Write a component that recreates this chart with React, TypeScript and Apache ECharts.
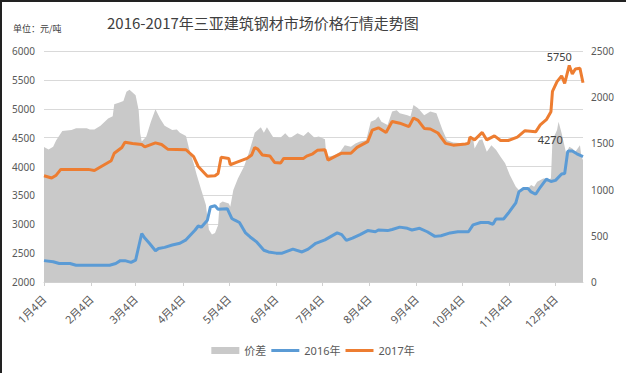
import React, { useEffect, useRef } from 'react';
import * as echarts from 'echarts';

// Daily category axis: 2016-01-04 .. 2016-12-22 (index = days since Jan 4)
const START_YEAR = 2016;
const START_MONTH = 0;
const START_DAY = 4;
const DAY_COUNT = 354;

const TITLE = '2016-2017年三亚建筑钢材市场价格行情走势图';
const UNIT = '单位：元/吨';
const SERIES_NAMES = ['价差', '2016年', '2017年'];

const leftAxis = { min: 2000, max: 6000, interval: 500 };
const rightAxis = { min: 0, max: 2500, interval: 500 };

// [dayIndex, price]
const price2016: [number, number][] = [
  [0, 2370], [6, 2350], [10, 2320], [17, 2320], [21, 2290], [43, 2290], [47, 2320], [50, 2370],
  [53, 2370], [57, 2340], [60, 2380], [62, 2610], [64, 2840], [66, 2760], [69, 2670], [73, 2540],
  [75, 2580], [79, 2600], [84, 2640], [89, 2670], [93, 2730], [99, 2900], [101, 2970], [103, 2950],
  [107, 3070], [109, 3300], [112, 3320], [114, 3260], [120, 3270], [123, 3100], [125, 3070],
  [128, 3030], [132, 2850], [135, 2780], [139, 2700], [144, 2550], [147, 2520], [152, 2500],
  [156, 2500], [163, 2570], [169, 2520], [173, 2570], [178, 2670], [184, 2730], [188, 2790],
  [192, 2850], [195, 2820], [198, 2720], [202, 2760], [207, 2820], [212, 2890], [217, 2870],
  [219, 2900], [225, 2890], [228, 2910], [233, 2950], [238, 2930], [241, 2900], [246, 2930],
  [251, 2870], [256, 2790], [260, 2800], [266, 2850], [271, 2870], [278, 2870], [281, 2990],
  [286, 3030], [291, 3030], [294, 3000], [296, 3090], [301, 3090], [304, 3190], [309, 3370],
  [311, 3560], [314, 3620], [317, 3620], [319, 3560], [322, 3520], [325, 3640], [329, 3780],
  [332, 3740], [335, 3760], [339, 3870], [341, 3880], [343, 4260], [344, 4270], [346, 4270],
  [349, 4220], [353, 4170],
];

const price2017: [number, number][] = [
  [0, 3840], [5, 3800], [8, 3850], [11, 3950], [29, 3950], [33, 3930], [44, 4100], [46, 4230],
  [51, 4330], [53, 4420], [58, 4400], [64, 4380], [66, 4340], [73, 4410], [77, 4380], [81, 4300],
  [93, 4290], [98, 4170], [101, 4000], [107, 3830], [112, 3840], [114, 3880], [116, 4160],
  [121, 4140], [122, 4030], [126, 4070], [133, 4140], [136, 4200], [138, 4330], [140, 4300],
  [143, 4200], [148, 4180], [151, 4070], [155, 4060], [157, 4140], [170, 4140], [172, 4180],
  [176, 4220], [179, 4280], [184, 4290], [186, 4110], [191, 4180], [195, 4230], [201, 4230],
  [205, 4330], [212, 4430], [215, 4630], [219, 4670], [224, 4590], [228, 4780], [233, 4750],
  [239, 4690], [242, 4840], [245, 4800], [249, 4660], [253, 4650], [258, 4580], [263, 4400],
  [268, 4370], [276, 4390], [278, 4400], [279, 4510], [282, 4460], [287, 4590], [290, 4460],
  [295, 4530], [299, 4450], [304, 4450], [310, 4510], [315, 4620], [322, 4600], [325, 4720],
  [329, 4810], [332, 4950], [333, 5300], [336, 5470], [339, 5570], [341, 5440], [344, 5750],
  [346, 5600], [348, 5690], [351, 5700], [353, 5450],
];

// [dayIndex, spread] (right axis)
const spread: [number, number][] = [
  [0, 1460], [3, 1435], [6, 1465], [8, 1535], [12, 1635], [18, 1645], [21, 1665], [28, 1665],
  [30, 1650], [33, 1650], [37, 1690], [42, 1770], [45, 1795], [46, 1925], [49, 1940], [52, 1960],
  [54, 2060], [56, 2080], [60, 2020], [62, 1860], [63, 1610], [64, 1520], [66, 1555], [67, 1575],
  [70, 1735], [73, 1870], [76, 1770], [79, 1690], [84, 1645], [87, 1650], [89, 1615], [93, 1580],
  [95, 1445], [98, 1285], [100, 1160], [103, 995], [106, 835], [108, 565], [110, 515], [112, 530],
  [114, 615], [115, 850], [117, 870], [121, 850], [122, 815], [124, 995], [127, 1120], [131, 1250],
  [134, 1390], [137, 1555], [138, 1615], [142, 1675], [144, 1615], [146, 1675], [150, 1570],
  [155, 1565], [158, 1610], [161, 1555], [166, 1610], [170, 1580], [173, 1625], [177, 1565],
  [180, 1575], [184, 1545], [185, 1355], [190, 1370], [194, 1410], [197, 1480], [201, 1465],
  [204, 1500], [207, 1520], [211, 1535], [214, 1735], [217, 1755], [219, 1790], [221, 1735],
  [225, 1700], [228, 1845], [231, 1860], [233, 1825], [238, 1805], [240, 1790], [242, 1915],
  [245, 1880], [249, 1805], [253, 1845], [257, 1825], [261, 1645], [264, 1535], [268, 1510],
  [276, 1500], [278, 1520], [281, 1555], [282, 1445], [285, 1535], [287, 1545], [290, 1410],
  [293, 1480], [296, 1430], [299, 1355], [302, 1285], [305, 1160], [309, 1030], [311, 995],
  [314, 1015], [316, 995], [319, 1050], [321, 1030], [323, 1085], [327, 1120], [331, 1115],
  [332, 1120], [333, 1535], [336, 1645], [337, 1735], [339, 1610], [342, 1390], [344, 1465],
  [346, 1445], [348, 1410], [351, 1480], [352, 1355], [353, 1320],
];

const COLORS = { spread: '#C9C9C9', y2016: '#5B9BD5', y2017: '#ED7D31' };
const TEXT = '#595959';
const FONT = "'Noto Sans', 'Noto Sans CJK SC', sans-serif";
const LINE_ICON = 'path://M0 0M28 7M0 2H28V5H0Z';

function peakOf(arr: [number, number][]) {
  return arr.reduce((a, b) => (b[1] > a[1] ? b : a));
}

export default function App() {
  const ref = useRef<HTMLDivElement>(null);
  useEffect(() => {
    document.body.style.margin = '0';
    const chart = echarts.init(ref.current!, null, { renderer: 'svg' });
    const categories: string[] = [];
    const monthIdx = new Set<number>();
    for (let i = 0; i < DAY_COUNT; i++) {
      const dt = new Date(START_YEAR, START_MONTH, START_DAY + i);
      categories.push(`${dt.getMonth() + 1}月${dt.getDate()}日`);
      if (dt.getDate() === START_DAY) monthIdx.add(i);
    }
    const p17 = peakOf(price2017);
    const p16 = peakOf(price2016);
    const markLabel = (pt: [number, number], dx: number, dy: number) => ({
      symbol: 'rect',
      symbolSize: 1,
      itemStyle: { color: 'rgba(0,0,0,0)' },
      label: {
        show: true,
        position: 'top',
        formatter: '{c}',
        offset: [dx, dy],
        color: '#404040',
        fontSize: 11,
        fontFamily: FONT,
      },
      data: [{ coord: [categories[pt[0]], pt[1]], value: pt[1] }],
    });

    chart.setOption({
      animation: false,
      textStyle: { fontFamily: FONT },
      title: [
        {
          text: TITLE,
          left: 102,
          top: 10,
          textStyle: { fontSize: 15, fontWeight: 'normal', color: '#404040', fontFamily: "'Noto Sans CJK SC', sans-serif" },
        },
        {
          text: UNIT,
          left: 8,
          top: 19,
          textStyle: { fontSize: 9, fontWeight: 'normal', color: '#404040', fontFamily: "'Noto Sans CJK SC', sans-serif" },
        },
      ],
      legend: {
        bottom: 12,
        left: 'center',
        itemWidth: 28,
        itemHeight: 7,
        itemGap: 5,
        textStyle: { color: TEXT, fontSize: 11, fontFamily: FONT },
        data: [
          { name: SERIES_NAMES[0], icon: 'rect' },
          { name: SERIES_NAMES[1], icon: LINE_ICON },
          { name: SERIES_NAMES[2], icon: LINE_ICON },
        ],
      },
      grid: { left: 44, right: 43, top: 51, bottom: 91 },
      xAxis: {
        type: 'category',
        boundaryGap: false,
        data: categories,
        axisLine: { lineStyle: { color: '#D0D0D0', width: 1 } },
        axisTick: {
          show: true,
          length: 4,
          interval: (i: number) => monthIdx.has(i),
          lineStyle: { color: '#D0D0D0' },
        },
        axisLabel: {
          interval: (i: number) => monthIdx.has(i),
          rotate: 45,
          margin: 15,
          color: TEXT,
          fontSize: 11,
          fontFamily: FONT,
        },
        splitLine: { show: false },
      },
      yAxis: [
        {
          type: 'value',
          min: leftAxis.min,
          max: leftAxis.max,
          interval: leftAxis.interval,
          axisLine: { show: false },
          axisTick: { show: false },
          axisLabel: { color: TEXT, fontSize: 10, margin: 9, fontFamily: FONT, formatter: (v: number) => String(v) },
          splitLine: { lineStyle: { color: '#D9D9D9' } },
        },
        {
          type: 'value',
          min: rightAxis.min,
          max: rightAxis.max,
          interval: rightAxis.interval,
          position: 'right',
          axisLine: { show: false },
          axisTick: { show: false },
          axisLabel: { color: TEXT, fontSize: 10, margin: 8, fontFamily: FONT, formatter: (v: number) => String(v) },
          splitLine: { show: false },
        },
      ],
      series: [
        {
          name: SERIES_NAMES[0],
          type: 'line',
          yAxisIndex: 1,
          data: spread,
          symbol: 'none',
          showSymbol: false,
          lineStyle: { width: 0, color: COLORS.spread },
          itemStyle: { color: COLORS.spread },
          areaStyle: { color: COLORS.spread, opacity: 1 },
          z: 1,
        },
        {
          name: SERIES_NAMES[1],
          type: 'line',
          yAxisIndex: 0,
          data: price2016,
          symbol: 'none',
          showSymbol: false,
          lineStyle: { width: 3, color: COLORS.y2016 },
          itemStyle: { color: COLORS.y2016 },
          markPoint: markLabel(p16, -19, 0),
          z: 3,
        },
        {
          name: SERIES_NAMES[2],
          type: 'line',
          yAxisIndex: 0,
          data: price2017,
          symbol: 'none',
          showSymbol: false,
          lineStyle: { width: 3, color: COLORS.y2017 },
          itemStyle: { color: COLORS.y2017 },
          markPoint: markLabel(p17, -10, 2),
          z: 3,
        },
      ],
    });
    return () => chart.dispose();
  }, []);
  return (
    <div style={{ position: 'relative', width: 626, height: 373 }}>
      <div ref={ref} style={{ position: 'absolute', left: 0, top: 0, width: 626, height: 373 }} />
      <div
        style={{
          position: 'absolute',
          left: 0,
          top: 0,
          width: 626,
          height: 373,
          boxSizing: 'border-box',
          borderTop: '2px solid #222',
          borderLeft: '2px solid #222',
          pointerEvents: 'none',
        }}
      />
    </div>
  );
}
